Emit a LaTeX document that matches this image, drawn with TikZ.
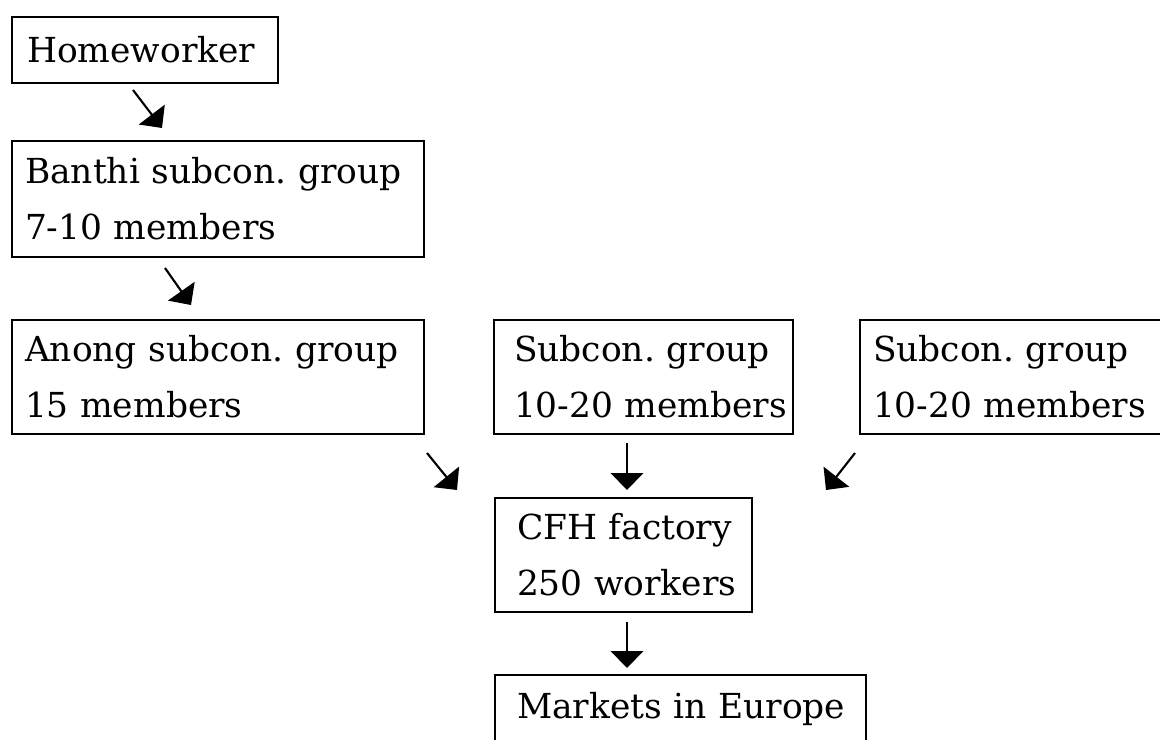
\documentclass[tikz,border=0pt]{standalone}
\usepackage{fontspec}
\setmainfont{DejaVu Serif}
\usetikzlibrary{arrows.meta}

\begin{document}
\frenchspacing
\begin{tikzpicture}[x=0.025cm, y=-0.025cm, >={Triangle[length=12pt, width=23pt]},
    box/.style={draw, line width=1.8pt, anchor=north west, outer sep=0pt, align=left, inner ysep=0pt, inner xsep=0.325cm,
        font=\fontsize{24.5}{40}\selectfont, execute at begin node={\hyphenpenalty=10000\exhyphenpenalty=10000}},
    arr/.style={->, line width=1.5pt}]
    \useasboundingbox (0,0) rectangle (1160,740);
    \clip (0,0) rectangle (1160,740);

    % Define boxes
    \node[box, inner xsep=0.375cm, text width=5.9cm, minimum height=1.65cm] (home) at (12,17) {Homeworker};
    \node[box, text width=9.65cm, minimum height=2.9cm] (banthi) at (12,141) {Banthi~subcon.~group\\7-10~members};
    \node[box, text width=9.65cm, minimum height=2.85cm] (anong) at (12,320) {Anong~subcon.~group\\15~members};
    \node[box, inner xsep=0.5cm, text width=6.475cm, minimum height=2.85cm] (subA) at (494,320) {Subcon.~group\\10-20~members};
    \node[box, text width=7.0cm, minimum height=2.85cm] (subB) at (860,320) {Subcon.~group\\10-20~members};
    \node[box, inner xsep=0.55cm, text width=5.325cm, minimum height=2.85cm] (cfh) at (495,498) {CFH~factory\\250~workers};
    \node[box, inner xsep=0.55cm, text width=8.175cm, minimum height=1.7cm] (market) at (495,675) {Markets~in~Europe};

    % Arrow ends
    \coordinate (s1) at (133,90);  \coordinate (e1) at (162,128);
    \coordinate (s2) at (165,268); \coordinate (e2) at (191,305);
    \coordinate (s3) at (427,453); \coordinate (e3) at (457,490);
    \coordinate (s4) at (627,443); \coordinate (e4) at (627,490);
    \coordinate (s5) at (855,453); \coordinate (e5) at (826,490);
    \coordinate (s6) at (627,622); \coordinate (e6) at (627,668);

    % Draw arrows
    \draw[arr] (s1) -- (e1); % Homeworker -> Banthi
    \draw[arr] (s2) -- (e2); % Banthi -> Anong
    \draw[arr] (s3) -- (e3); % Anong -> CFH
    \draw[arr] (s4) -- (e4); % Subcon -> CFH
    \draw[arr] (s5) -- (e5); % Subcon -> CFH
    \draw[arr] (s6) -- (e6); % CFH -> Markets
\end{tikzpicture}
\end{document}
